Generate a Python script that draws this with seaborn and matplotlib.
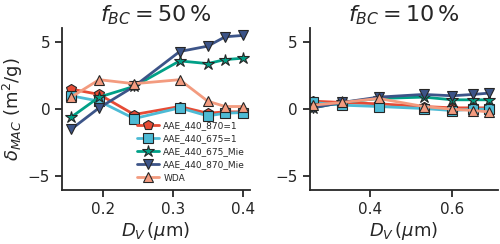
import numpy as np
import pandas as pd
import matplotlib
matplotlib.use("Agg")
import matplotlib.pyplot as plt
import seaborn as sns

sns.set_theme(style="ticks", rc={"axes.linewidth": 1.3,
                                 "xtick.major.width": 1.3, "ytick.major.width": 1.3,
                                 "xtick.major.size": 5, "ytick.major.size": 5})

# data
labels = ["AAE_440_870=1", "AAE_440_675=1", "AAE_440_675_Mie", "AAE_440_870_Mie", "WDA"]
colors = ["#E64B35", "#4DBBD5", "#00A087", "#3C5488", "#F39B7F"]
markers = ["p", "s", "*", "v", "^"]

dv_50 = [0.155, 0.195, 0.245, 0.31, 0.35, 0.375, 0.40]
mac_50 = [
    [1.5, 1.1, -0.4, 0.2, -0.3, -0.2, -0.2],
    [1.0, 0.6, -0.7, 0.1, -0.5, -0.3, -0.25],
    [-0.6, 0.9, 1.7, 3.6, 3.4, 3.7, 3.8],
    [-1.5, 0.1, 1.7, 4.3, 4.7, 5.4, 5.5],
    [0.9, 2.2, 1.9, 2.2, 0.6, 0.2, 0.2],
]

dv_10 = [0.26, 0.33, 0.42, 0.53, 0.60, 0.65, 0.69]
mac_10 = [
    [0.6, 0.5, 0.4, 0.2, 0.1, 0.1, 0.1],
    [0.5, 0.3, 0.2, 0.05, -0.1, 0.0, 0.0],
    [0.1, 0.5, 0.8, 0.9, 0.7, 0.7, 0.7],
    [0.1, 0.5, 0.9, 1.1, 1.0, 1.1, 1.2],
    [0.3, 0.5, 0.8, 0.2, 0.0, -0.1, -0.2],
]

fig, axes = plt.subplots(1, 2, figsize=(5, 2.44), dpi=100, sharey=True)

for ax, dv, mac, title in [(axes[0], dv_50, mac_50, r"$f_{BC} = 50\,\%$"),
                           (axes[1], dv_10, mac_10, r"$f_{BC} = 10\,\%$")]:
    for lab, col, mk, vals in zip(labels, colors, markers, mac):
        sns.lineplot(x=dv, y=vals, ax=ax, color=col, marker=mk, label=lab,
                     lw=2, ms=9 if mk == "*" else 7, markeredgecolor="0.15",
                     markeredgewidth=0.8, legend=ax is axes[0])
    ax.set_title(title, fontsize=16, pad=5)
    ax.set_xlabel(r"$D_V\,(\mu$m)", fontsize=13, labelpad=2)
    ax.tick_params(labelsize=11)
    ax.set_ylim(-6.05, 6.05)
    ax.set_yticks([-5, 0, 5])
    sns.despine(ax=ax)

axes[0].set_xlim(0.142, 0.41)
axes[0].set_xticks([0.2, 0.3, 0.4])
axes[1].set_xlim(0.252, 0.71)
axes[1].set_xticks([0.4, 0.6])
axes[1].tick_params(labelleft=True)
axes[0].set_ylabel(r"$\delta_{MAC}$ (m$^2$/g)", fontsize=13, labelpad=2)

axes[0].legend(loc="lower right", fontsize=6.5, frameon=False,
               handlelength=2.4, borderaxespad=0.1, labelspacing=0.45,
               handletextpad=0.5, bbox_to_anchor=(1.0, 0.02))

fig.subplots_adjust(left=0.124, right=0.995, bottom=0.22, top=0.885, wspace=0.32)
fig.savefig("out.png")
